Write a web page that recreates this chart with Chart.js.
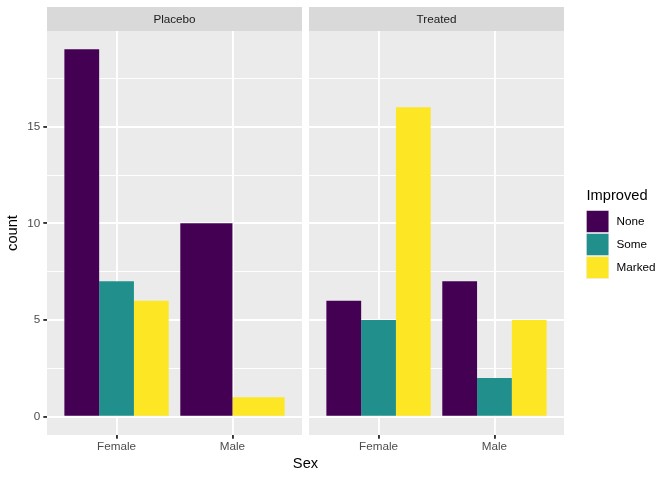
<!DOCTYPE html>
<html><head><meta charset="utf-8">
<script src="https://cdn.jsdelivr.net/npm/chart.js@4"></script>
<style>
html,body{margin:0;padding:0;background:#fff;}
#wrap{position:relative;width:672px;height:480px;}
canvas{position:absolute;left:0;top:0;}
</style></head><body>
<div id="wrap"><canvas id="cA" width="672" height="480"></canvas><canvas id="cB" width="672" height="480"></canvas></div>
<script>
// ---- data ----
const sexes = ['Female', 'Male'];
const panels = ['Placebo', 'Treated'];
const improvedLevels = ['None', 'Some', 'Marked'];
const placeboNone = [19, 10];
const placeboSome = [7, null];
const placeboMarked = [6, 1];
const treatedNone = [6, 7];
const treatedSome = [5, 2];
const treatedMarked = [16, 5];
const yTickValues = [0, 5, 10, 15];
const levelColors = ['#440154', '#21908C', '#FDE725'];
const xTitle = 'Sex';
const yTitle = 'count';
const legendTitle = 'Improved';

const FONT = "'Liberation Sans', Arial, Helvetica, sans-serif";
const toPoints = arr => arr.map((v, i) => ({ x: i + 1, y: v }));
const isMajor = v => yTickValues.includes(v);

function makeDatasets(seriesList) {
  return seriesList.map((s, k) => ({
    label: improvedLevels[k],
    data: toPoints(s),
    backgroundColor: levelColors[k],
    borderWidth: 0,
    barPercentage: 1,
    categoryPercentage: 0.9,
    skipNull: true
  }));
}

const panelPlugin = {
  id: 'panelDecor',
  beforeDraw(chart, args, opts) {
    const { ctx, chartArea: a } = chart;
    ctx.save();
    ctx.fillStyle = '#EBEBEB';
    ctx.fillRect(a.left, a.top, a.right - a.left, a.bottom - a.top);
    ctx.fillStyle = '#D9D9D9';
    ctx.fillRect(a.left, 7, a.right - a.left, a.top - 7);
    ctx.fillStyle = '#1A1A1A';
    ctx.font = '11.7px ' + FONT;
    ctx.textAlign = 'center';
    ctx.textBaseline = 'middle';
    ctx.fillText(opts.label, (a.left + a.right) / 2, (7 + a.top) / 2 + 0.5);
    ctx.restore();
  },
  afterDraw(chart, args, opts) {
    const ctx = chart.ctx;
    ctx.save();
    if (opts.xTitle) {
      ctx.fillStyle = '#000';
      ctx.font = '14.67px ' + FONT;
      ctx.textAlign = 'center';
      ctx.textBaseline = 'middle';
      ctx.fillText(opts.xTitle, opts.xTitleX, 464);
    }
    if (opts.legend) {
      ctx.fillStyle = '#000';
      ctx.font = '14.67px ' + FONT;
      ctx.textAlign = 'left';
      ctx.textBaseline = 'middle';
      ctx.fillText(legendTitle, 586.5, 196);
      chart.data.datasets.forEach((ds, i) => {
        const y0 = 210 + 23 * i;
        ctx.fillStyle = '#F2F2F2';
        ctx.fillRect(586, y0, 23, 23);
        ctx.fillStyle = ds.backgroundColor;
        ctx.fillRect(586.7, y0 + 0.8, 21.8, 21.4);
        ctx.fillStyle = '#000';
        ctx.font = '11.7px ' + FONT;
        ctx.fillText(ds.label, 616.5, y0 + 12);
      });
    }
    ctx.restore();
  }
};

function xScale() {
  return {
    type: 'linear', min: 0.4, max: 2.6, offset: false,
    afterBuildTicks: s => { s.ticks = sexes.map((_, i) => ({ value: i + 1 })); },
    ticks: {
      callback: (v, i) => sexes[i],
      color: '#4D4D4D', font: { family: FONT, size: 11.7 }, padding: 1,
      maxRotation: 0, autoSkip: false
    },
    grid: { color: '#FFFFFF', lineWidth: 1.9, tickColor: '#333333', tickLength: 3.7, tickWidth: 1.9, offset: false },
    border: { display: false },
    afterFit: s => { s.height = 45; }
  };
}

function yScale(showAxis) {
  return {
    min: -0.95, max: 19.95,
    afterBuildTicks: s => { s.ticks = yTickValues.flatMap(v => [{ value: v }, { value: v + 2.5 }]); },
    ticks: {
      display: showAxis,
      callback: v => isMajor(v) ? String(v) : '',
      color: '#4D4D4D', font: { family: FONT, size: 11.7 }, padding: 3, autoSkip: false
    },
    grid: {
      color: '#FFFFFF',
      lineWidth: c => isMajor(c.tick.value) ? 1.9 : 0.95,
      drawTicks: showAxis,
      tickColor: c => isMajor(c.tick.value) ? '#333333' : 'rgba(0,0,0,0)',
      tickLength: 3.7, tickWidth: 1.9
    },
    border: { display: false },
    title: showAxis ? { display: true, text: yTitle, color: '#000', font: { family: FONT, size: 14.67 }, padding: { top: 4, bottom: 0 } } : { display: false },
    afterFit: s => { s.width = showAxis ? 47 : 0; }
  };
}

const common = {
  responsive: false, animation: false, devicePixelRatio: 1,
  events: []
};

new Chart(document.getElementById('cA'), {
  type: 'bar',
  data: { datasets: makeDatasets([placeboNone, placeboSome, placeboMarked]) },
  options: Object.assign({}, common, {
    layout: { padding: { left: 0, top: 31, right: 370, bottom: 0 } },
    scales: { x: xScale(), y: yScale(true) },
    plugins: {
      legend: { display: false }, tooltip: { enabled: false },
      panelDecor: { label: panels[0], xTitle: xTitle, xTitleX: 305.5 }
    }
  }),
  plugins: [panelPlugin]
});

new Chart(document.getElementById('cB'), {
  type: 'bar',
  data: { datasets: makeDatasets([treatedNone, treatedSome, treatedMarked]) },
  options: Object.assign({}, common, {
    layout: { padding: { left: 309, top: 31, right: 108, bottom: 0 } },
    scales: { x: xScale(), y: yScale(false) },
    plugins: {
      legend: { display: false }, tooltip: { enabled: false },
      panelDecor: { label: panels[1], legend: true }
    }
  }),
  plugins: [panelPlugin]
});
</script>
</body></html>
